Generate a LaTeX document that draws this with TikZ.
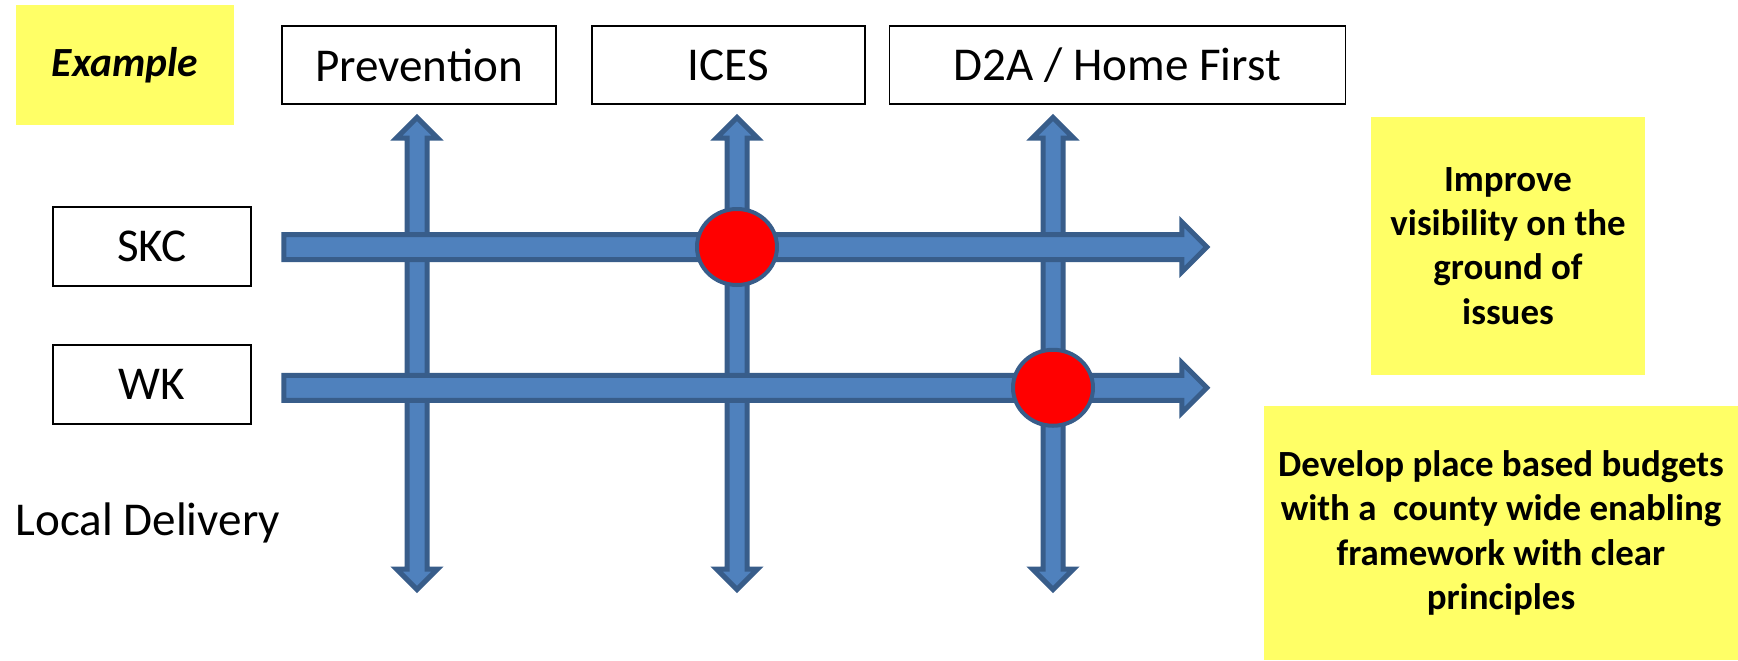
\documentclass[tikz,border=0pt]{standalone}
\usepackage{fontspec}
\setmainfont{Carlito}
\usepackage{xcolor}
\usetikzlibrary{arrows,shapes.arrows,positioning,shapes}

\definecolor{barfill}{RGB}{79,129,189}
\definecolor{baredge}{RGB}{56,93,138}
\definecolor{notefill}{RGB}{255,255,102}

\begin{document}
\begin{tikzpicture}[x=0.1mm,y=-0.1mm,
	label box/.style={rectangle,draw,line width=0.5pt,font=\fontsize{13.4}{16}\selectfont},
	head box/.style={label box,minimum height=7.8mm},
	row box/.style={label box,minimum width=19.8mm,minimum height=7.9mm},
	note box/.style={rectangle,fill=notefill,align=center,
		font=\fontsize{10.5}{12.6}\selectfont\bfseries},
	vbar/.style={double arrow,draw=baredge,fill=barfill,line width=0.5mm,rotate=90,
		inner sep=0.75mm,double arrow head extend=1.05mm,minimum height=47.2mm},
	hbar/.style={single arrow,draw=baredge,fill=barfill,line width=0.5mm,
		inner sep=1mm,single arrow head extend=1.25mm,minimum height=92.3mm},
	hit/.style={ellipse,draw=baredge,fill=red,line width=0.4mm,inner sep=0pt,
		minimum width=8mm,minimum height=7.6mm}]

	\useasboundingbox (0,0) rectangle (1738,660);

	% headings
	\node[note box,minimum width=21.8mm,minimum height=12mm,
		font=\fontsize{11.8}{14}\selectfont\bfseries\itshape] (example) at (125,65) {Example};
	\node[head box,minimum width=27.4mm] (prev) at (419,65) {Prevention};
	\node[head box,minimum width=27.3mm,right=3.4mm of prev] (ices) {ICES};
	\node[head box,minimum width=45.6mm,right=2.3mm of ices] (dta) {D2A / Home First};

	\node[row box] (skc) at (152,246.5) {SKC};
	\node[row box,below=5.7mm of skc] (wk) {WK};
	\node[anchor=base west,inner sep=0pt,font=\fontsize{13.4}{16}\selectfont] (local) at (15,535) {Local Delivery};

	% grid of arrows
	\foreach \x/\n in {417/prevbar,737/icesbar,1053/dtabar}
		\node[vbar] (\n) at (\x,353.5) {};

	\node[hbar,anchor=tail] (skcbar) at ([xshift=2.95mm,yshift=-0.05mm]skc.east) {};
	\node[hbar,anchor=tail] (wkbar) at ([xshift=2.95mm,yshift=-0.35mm]wk.east) {};

	\node[hit] (skcices) at (icesbar |- skcbar) {};
	\node[hit] (wkdta) at (dtabar |- wkbar) {};

	% aims
	\node[note box,minimum width=27.4mm,minimum height=25.8mm] (visibility) at (1508,246)
		{Improve\\visibility on the\\ground of\\issues};
	\node[note box,minimum width=47.4mm,minimum height=25.4mm] (budgets) at (1501,533)
		{Develop place based budgets\\with a\ \ county wide enabling\\framework with clear\\principles};

\end{tikzpicture}
\end{document}
